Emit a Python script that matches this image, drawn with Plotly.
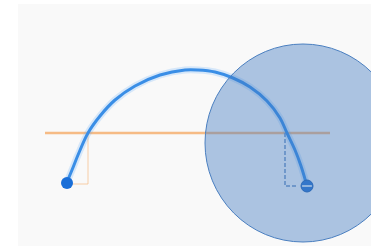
import plotly.graph_objects as go

# Arc (trajectory) points, in chart units
arc_x = [67, 72, 78, 88, 100, 115, 135, 160, 185, 198, 215, 233, 250, 267, 280, 287, 295, 301, 307]
arc_y = [182, 170, 155, 133, 116, 100, 86, 75, 70, 70, 72, 78, 87, 101, 118, 133, 150, 166, 186]

# Horizontal reference line
ref_x = [45, 330]
ref_y = [133, 133]

# Drop lines
left_drop_x = [88, 88, 72]
left_drop_y = [133, 184, 184]
right_drop_x = [285, 285, 298]
right_drop_y = [133, 186, 186]

# End points
start_pt = ([67], [183])
end_pt = ([307], [186])

# Circle overlay bounds
circle_box = dict(x0=205, x1=401, y0=44, y1=242)

fig = go.Figure()

fig.add_trace(go.Scatter(x=ref_x, y=ref_y, mode="lines",
                         line=dict(color="#f6bb85", width=2.5), hoverinfo="skip"))
fig.add_trace(go.Scatter(x=left_drop_x, y=left_drop_y, mode="lines",
                         line=dict(color="rgba(246,187,133,0.7)", width=1), hoverinfo="skip"))
fig.add_trace(go.Scatter(x=right_drop_x, y=right_drop_y, mode="lines",
                         line=dict(color="#6f93c4", width=1.5, dash="4px,2px"), hoverinfo="skip"))
# glow
fig.add_trace(go.Scatter(x=arc_x, y=arc_y, mode="lines", line_shape="spline",
                         line=dict(color="rgba(90,170,250,0.22)", width=7), hoverinfo="skip"))
fig.add_trace(go.Scatter(x=arc_x, y=arc_y, mode="lines", line_shape="spline",
                         line=dict(color="#3a8ee6", width=3), hoverinfo="skip"))
fig.add_trace(go.Scatter(x=start_pt[0], y=start_pt[1], mode="markers",
                         marker=dict(color="#1a6fd8", size=12), hoverinfo="skip"))
fig.add_trace(go.Scatter(x=end_pt[0], y=end_pt[1], mode="markers",
                         marker=dict(color="#2a74d0", size=12, line=dict(color="#1f5fb0", width=1)),
                         hoverinfo="skip"))
fig.add_trace(go.Scatter(x=end_pt[0], y=end_pt[1], mode="markers",
                         marker=dict(symbol="line-ew", size=7, line=dict(color="white", width=1.5)),
                         hoverinfo="skip"))

fig.add_shape(type="circle", xref="x", yref="y", layer="above",
              fillcolor="rgba(65,122,192,0.42)", line=dict(color="#4a7fc0", width=1),
              **circle_box)

fig.update_layout(
    width=371, height=246,
    margin=dict(l=18, r=0, t=4, b=0),
    paper_bgcolor="white", plot_bgcolor="#f9f9f9",
    showlegend=False,
    xaxis=dict(range=[18, 371], visible=False, fixedrange=True),
    yaxis=dict(range=[246, 4], visible=False, fixedrange=True),
)

fig.write_html("out.html", config={"displayModeBar": False},
               post_script="document.body.style.margin='0';document.body.style.overflow='hidden';")
